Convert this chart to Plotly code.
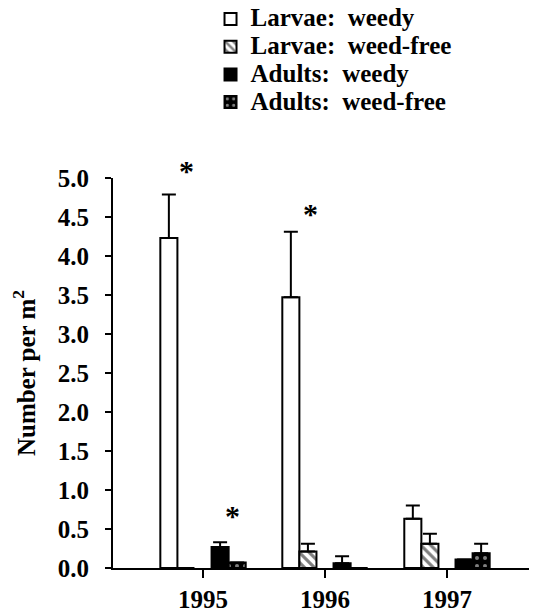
import plotly.graph_objects as go

years = ["1995", "1996", "1997"]
series_names = ["Larvae:  weedy", "Larvae:  weed-free", "Adults:  weedy", "Adults:  weed-free"]
larvae_weedy = [4.23, 3.47, 0.63]
larvae_weedy_err = [0.56, 0.84, 0.17]
larvae_free = [0.0, 0.21, 0.31]
larvae_free_err = [None, 0.10, 0.13]
adults_weedy = [0.27, 0.06, 0.11]
adults_weedy_err = [0.06, 0.09, None]
adults_free = [0.07, 0.0, 0.19]
adults_free_err = [None, None, 0.12]

# significance markers: (year index, offset within group, y value)
star_year = [0, 1, 0]
star_dx = [-0.139, -0.123, 0.238]
star_y = [5.10, 4.54, 0.67]

FONT = "Times New Roman"
Y_MAX = 5.0
BW = 0.14
offsets = [-0.35, -0.21, 0.07, 0.21]
values = [larvae_weedy, larvae_free, adults_weedy, adults_free]
errs = [larvae_weedy_err, larvae_free_err, adults_weedy_err, adults_free_err]
styles = [
    dict(color="white", pattern=None),
    dict(color="white", pattern=dict(shape="\\", fgcolor="black", size=7, solidity=0.45, fillmode="overlay")),
    dict(color="black", pattern=None),
    dict(color="black", pattern=dict(shape=".", fgcolor="white", size=8, solidity=0.2, fillmode="overlay")),
]

fig = go.Figure()
for name, vals, err, off, st in zip(series_names, values, errs, offsets, styles):
    marker = dict(color=st["color"], line=dict(color="black", width=2))
    if st["pattern"]:
        marker["pattern"] = st["pattern"]
    fig.add_trace(go.Bar(
        x=years, y=vals, name='<span style="font-size:25px">' + name + "</span>",
        width=BW, offset=off, marker=marker,
        error_y=dict(type="data", symmetric=False, array=err,
                     arrayminus=[0] * len(err), color="black", thickness=2, width=7),
    ))

for yi, dx, sy in zip(star_year, star_dx, star_y):
    fig.add_annotation(x=yi + dx, y=sy / Y_MAX, xref="x", yref="paper", text="*",
                       xanchor="center", yanchor="middle",
                       showarrow=False, font=dict(family=FONT, size=30, color="black", weight="bold"))

# the page body adds an 8px offset, so the figure is 8px smaller than the window
fig.update_layout(
    width=529, height=608,
    margin=dict(l=105, r=0, t=170, b=48, autoexpand=False),
    paper_bgcolor="white", plot_bgcolor="white",
    barmode="overlay",
    font=dict(family=FONT, size=25, color="black", weight="bold"),
    showlegend=True,
    legend=dict(x=0.23, y=1.456, xanchor="left", yanchor="top",
                font=dict(family=FONT, size=19, color="black", weight="bold"),
                tracegroupgap=0, bgcolor="rgba(0,0,0,0)"),
    xaxis=dict(type="category", range=[-0.738, 2.738], showgrid=False,
               showline=True, linecolor="black", linewidth=2,
               ticks="outside", ticklen=8, tickwidth=2, tickcolor="black",
               tickfont=dict(family=FONT, size=25, color="black", weight="bold")),
    yaxis=dict(range=[0, Y_MAX], showgrid=False, zeroline=False,
               showline=True, linecolor="black", linewidth=2,
               ticks="outside", ticklen=6, tickwidth=2, tickcolor="black",
               tickvals=[0, 0.5, 1, 1.5, 2, 2.5, 3, 3.5, 4, 4.5, 5],
               ticktext=["0.0", "0.5", "1.0", "1.5", "2.0", "2.5", "3.0", "3.5", "4.0", "4.5", "5.0"],
               ticklabelstandoff=11,
               tickfont=dict(family=FONT, size=25, color="black", weight="bold"),
               title=dict(text="Number per m<sup>2</sup>", standoff=18,
                          font=dict(family=FONT, size=25, color="black", weight="bold"))),
)

fig.write_html("out.html")
